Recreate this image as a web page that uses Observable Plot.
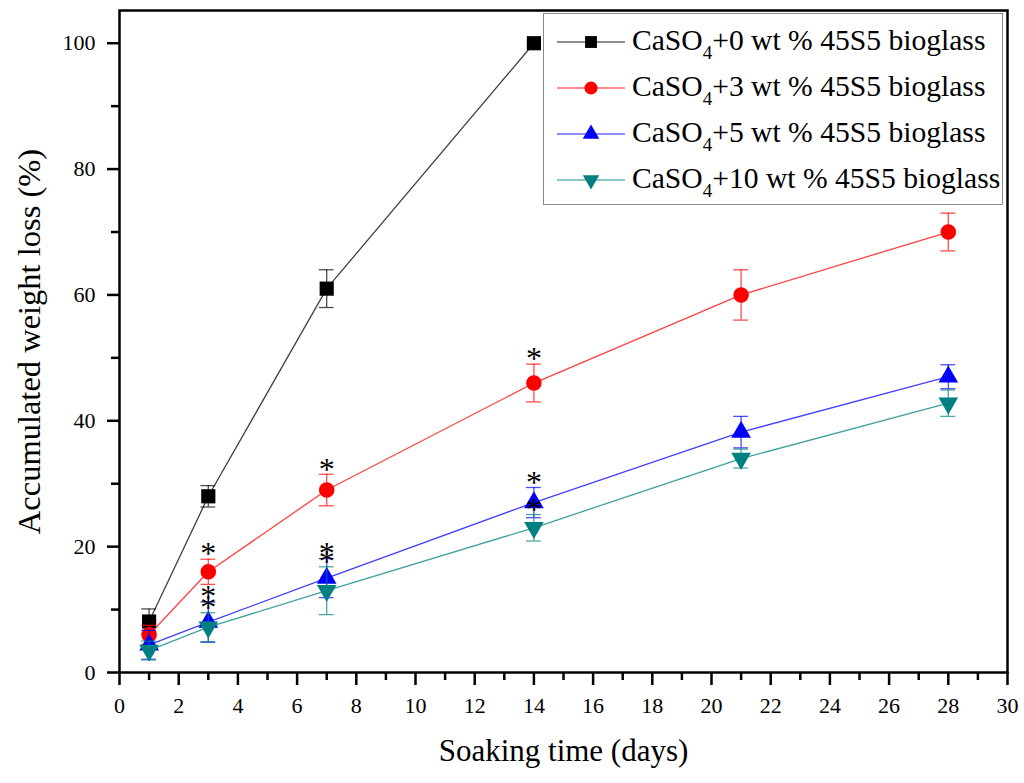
<!DOCTYPE html>
<html>
<head>
<meta charset="utf-8">
<script src="https://cdn.jsdelivr.net/npm/d3@7"></script>
<script src="https://cdn.jsdelivr.net/npm/@observablehq/plot@0.6"></script>
<style>
  html, body { margin: 0; padding: 0; background: #fff; }
  #wrap { position: relative; width: 1024px; height: 783px; font-family: "Liberation Serif", "Times New Roman", serif; }
  #legend { position: absolute; left: 543px; top: 13px; width: 460px; height: 192px; border: 1.5px solid #8a8a8a; background: #fff; box-sizing: border-box; padding-top: 5px; }
  .row { position: relative; height: 46px; }
  .row svg { position: absolute; left: 13px; top: 0; }
  .row .lbl { position: absolute; left: 88px; top: 7px; font-size: 29.6px; line-height: 29px; white-space: nowrap; color: #000; }
  .row .lbl sub { font-size: 19px; position: relative; top: 9px; vertical-align: baseline; }
</style>
</head>
<body>
<div id="wrap"><div id="legend"></div></div>
<script>
// ---- data ----
const days = [1, 3, 7, 14, 21, 28];
const seriesKeys = ["0", "3", "5", "10"];
const seriesLabels = [
  "CaSO<sub>4</sub>+0 wt % 45S5 bioglass",
  "CaSO<sub>4</sub>+3 wt % 45S5 bioglass",
  "CaSO<sub>4</sub>+5 wt % 45S5 bioglass",
  "CaSO<sub>4</sub>+10 wt % 45S5 bioglass"
];
const loss0 = [8.1, 28, 61, 100];
const err0 = [2, 1.7, 3, 0];
const loss3 = [6, 16, 29, 46, 60, 70];
const err3 = [1.5, 2, 2.5, 3, 4, 3];
const loss5 = [4.4, 8, 15, 27, 38.2, 47];
const err5 = [2.3, 3.2, 3.1, 2.4, 2.5, 1.9];
const loss10 = [3.5, 7.2, 13, 23, 34, 42.8];
const err10 = [1.5, 2.3, 3.8, 2.1, 1.5, 2.1];
const starSeries = ["3", "5", "10"];
const starDays = [3, 7, 14];
const xTicks = [0, 2, 4, 6, 8, 10, 12, 14, 16, 18, 20, 22, 24, 26, 28, 30];
const xMinorTicks = [1, 3, 5, 7, 9, 11, 13, 15, 17, 19, 21, 23, 25, 27, 29];
const yTicks = [0, 20, 40, 60, 80, 100];
const yMinorTicks = [10, 30, 50, 70, 90];
const xLabel = "Soaking time (days)";
const yLabel = "Accumulated weight loss (%)";

// ---- styles ----
const FONT = "'Liberation Serif', 'Times New Roman', serif";
const colors = ["#000000", "#ff0000", "#0000ff", "#008080"];
const symbols = ["square", "circle", "triangle", "triangle"];
const rotations = [0, 0, 0, 180];
const radii = [8, 7.8, 7.3, 7.3];

const means = [loss0, loss3, loss5, loss10];
const errs = [err0, err3, err5, err10];

const rows = seriesKeys.flatMap((k, s) =>
  means[s].map((m, i) => ({series: k, s, day: days[i], mean: m, err: errs[s][i]}))
);
const stars = rows.filter(r => starSeries.includes(r.series) && starDays.includes(r.day));

const seriesMarks = seriesKeys.flatMap((k, s) => {
  const d = rows.filter(r => r.series === k);
  const e = d.filter(r => r.err > 0);
  return [
    Plot.line(d, {x: "day", y: "mean", stroke: colors[s], strokeWidth: 1.3, strokeOpacity: 0.75}),
    Plot.ruleX(e, {x: "day", y1: r => r.mean - r.err, y2: r => r.mean + r.err, stroke: colors[s], strokeWidth: 1.3, strokeOpacity: 0.7}),
    Plot.ruleY(e, {y: r => r.mean + r.err, x1: r => r.day - 0.25, x2: r => r.day + 0.25, stroke: colors[s], strokeWidth: 1.3, strokeOpacity: 0.7}),
    Plot.ruleY(e, {y: r => r.mean - r.err, x1: r => r.day - 0.25, x2: r => r.day + 0.25, stroke: colors[s], strokeWidth: 1.3, strokeOpacity: 0.7}),
    Plot.dot(d, {x: "day", y: "mean", symbol: () => symbols[s], fill: colors[s], stroke: "none", r: radii[s], rotate: rotations[s]})
  ];
});

const chart = Plot.plot({
  width: 1024,
  height: 783,
  marginLeft: 119,
  marginRight: 17,
  marginTop: 10,
  marginBottom: 111,
  style: {fontFamily: FONT, fontSize: "22px", color: "#000", background: "#fff"},
  x: {domain: [0, 30]},
  y: {domain: [0, 105.2]},
  symbol: {type: "identity"},
  marks: [
    ...seriesMarks,
    Plot.text(stars, {x: "day", y: r => r.mean + r.err, text: () => "*", fontSize: 32, fontFamily: FONT, dy: -5, lineAnchor: "middle", fill: "#000"}),
    Plot.frame({stroke: "#000", strokeWidth: 2.5}),
    Plot.axisX({ticks: xTicks, tickSize: 13, tickPadding: 12, fontSize: 22, fontFamily: FONT, strokeWidth: 2.5, label: null}),
    Plot.axisX({ticks: xMinorTicks, tickSize: 8, tickFormat: () => "", strokeWidth: 2.5, label: null}),
    Plot.axisY({ticks: yTicks, tickSize: 12, tickPadding: 12, fontSize: 22, fontFamily: FONT, strokeWidth: 2.5, label: null}),
    Plot.axisY({ticks: yMinorTicks, tickSize: 8, tickFormat: () => "", strokeWidth: 2.5, label: null}),
    Plot.text([xLabel], {frameAnchor: "bottom", dy: 79, textAnchor: "middle", lineAnchor: "middle", fontSize: 31, fontFamily: FONT, text: d => d}),
    Plot.text([yLabel], {frameAnchor: "left", dx: -90, rotate: -90, textAnchor: "middle", lineAnchor: "middle", fontSize: 32.5, fontFamily: FONT, text: d => d})
  ]
});
document.getElementById("wrap").prepend(chart);

// ---- legend ----
const legend = document.getElementById("legend");
seriesKeys.forEach((k, s) => {
  const row = document.createElement("div");
  row.className = "row";
  const sym = d3.symbol().type(s === 0 ? d3.symbolSquare : s === 1 ? d3.symbolCircle : d3.symbolTriangle)
    .size(Math.PI * radii[s] * radii[s] * 0.7)();
  row.innerHTML =
    `<svg width="70" height="46"><line x1="0" x2="68" y1="23" y2="23" stroke="${colors[s]}" stroke-width="1.3" stroke-opacity="0.6"/>` +
    `<path d="${sym}" transform="translate(34,23) rotate(${rotations[s]})" fill="${colors[s]}"/></svg>` +
    `<span class="lbl">${seriesLabels[s]}</span>`;
  legend.appendChild(row);
});
</script>
</body>
</html>
